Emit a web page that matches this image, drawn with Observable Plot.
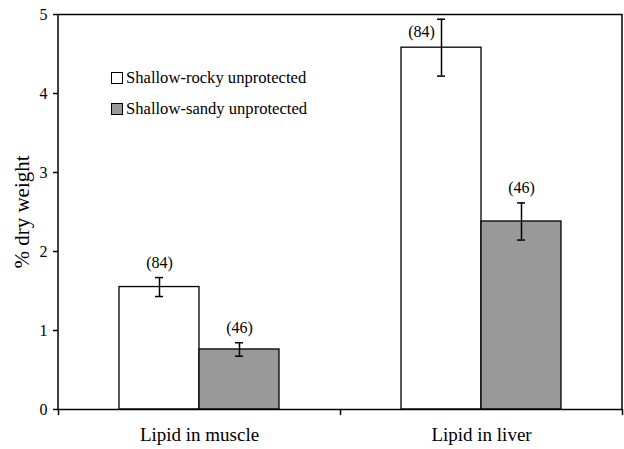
<!DOCTYPE html>
<html>
<head>
<meta charset="utf-8">
<script src="https://cdn.jsdelivr.net/npm/d3@7"></script>
<script src="https://cdn.jsdelivr.net/npm/@observablehq/plot@0.6"></script>
<style>
  body { margin: 0; background: #fff; }
  #wrap { position: relative; width: 624px; height: 449px; font-family: "Liberation Serif", "Times New Roman", serif; }
  #legend { position: absolute; left: 111px; top: 70px; font-size: 16.6px; color: #000; }
  .row { position: absolute; left: 0; white-space: nowrap; display: flex; align-items: center; height: 16px; }
  .sw { width: 10px; height: 10px; border: 1px solid #000; margin-right: 3px; }
</style>
</head>
<body>
<div id="wrap"></div>
<script>
const categories = ["Lipid in muscle", "Lipid in liver"];
const series = ["Shallow-rocky unprotected", "Shallow-sandy unprotected"];
const rockyMean = [1.55, 4.58];
const rockyErr = [0.12, 0.36];
const sandyMean = [0.76, 2.38];
const sandyErr = [0.085, 0.235];
const sampleN = [84, 46];
const colors = ["#ffffff", "#999999"];
const yTicks = [0, 1, 2, 3, 4, 5];
const yTitle = "% dry weight";

const rows = [];
categories.forEach((c, i) => {
  rows.push({cat: c, s: series[0], v: rockyMean[i], e: rockyErr[i], n: sampleN[0]});
  rows.push({cat: c, s: series[1], v: sandyMean[i], e: sandyErr[i], n: sampleN[1]});
});
rows.forEach(d => { d.lo = d.v - d.e; d.hi = d.v + d.e; });
const yMax = 5;
const crowded = d => d.hi + 0.3 > yMax;

const W = 624, H = 449, mL = 58, mR = 2, mT = 14, mB = 40;

const chart = Plot.plot({
  width: W,
  height: H,
  marginLeft: mL,
  marginRight: mR,
  marginTop: mT,
  marginBottom: mB,
  style: {fontFamily: "'Liberation Serif', 'Times New Roman', serif", fontSize: "16px", color: "#000", background: "#fff"},
  fx: {domain: categories, padding: 0, label: null},
  x: {domain: series, paddingInner: 0, paddingOuter: 0.75, axis: null},
  y: {domain: [0, yMax], label: null},
  color: {domain: series, range: colors},
  marks: [
    Plot.barY(rows, {fx: "cat", x: "s", y: "v", fill: "s", stroke: "#000", strokeWidth: 1.3}),
    Plot.ruleX(rows, {fx: "cat", x: "s", y1: "lo", y2: "hi", stroke: "#000", strokeWidth: 1.5}),
    Plot.tickY(rows, {fx: "cat", x: "s", y: "lo", stroke: "#000", strokeWidth: 1.5, insetLeft: 36, insetRight: 36}),
    Plot.tickY(rows, {fx: "cat", x: "s", y: "hi", stroke: "#000", strokeWidth: 1.5, insetLeft: 36, insetRight: 36}),
    Plot.text(rows.filter(d => !crowded(d)), {fx: "cat", x: "s", y: "hi", text: d => `(${d.n})`, dy: -15, fontSize: 16, fill: "#000"}),
    Plot.text(rows.filter(crowded), {fx: "cat", x: "s", y: "hi", text: d => `(${d.n})`, dx: -20, dy: 13, fontSize: 16, fill: "#000"}),
    Plot.ruleY([0, yMax], {stroke: "#000", strokeWidth: 1.5}),
    Plot.axisY({ticks: yTicks, tickSize: 5, tickPadding: 6, tickFormat: d3.format("d"), fontSize: 16, strokeWidth: 1.5, label: null}),
    Plot.axisFx({anchor: "bottom", tickSize: 0, tickPadding: 18, fontSize: 19, label: null}),
    Plot.vector(categories, {fx: d => d, frameAnchor: "bottom-right", shape: "spike", r: 0, length: 5, rotate: 180, anchor: "start", stroke: "#000", strokeWidth: 1.5}),
    Plot.vector([categories[0]], {fx: d => d, frameAnchor: "bottom-left", shape: "spike", r: 0, length: 5, rotate: 180, anchor: "start", stroke: "#000", strokeWidth: 1.5}),
    Plot.text([categories[0]], {fx: d => d, frameAnchor: "left", textAnchor: "middle", lineAnchor: "middle", text: () => yTitle, rotate: -90, dx: -36, fontSize: 21, fill: "#000"})
  ]
});

// left and right frame lines, using the chart's own y scale range
const yr = chart.scale("y").range;
const svg = d3.select(chart);
[mL, W - mR].forEach(xp => {
  svg.append("line")
    .attr("x1", xp).attr("x2", xp)
    .attr("y1", yr[0]).attr("y2", yr[1])
    .attr("stroke", "#000").attr("stroke-width", 1.5);
});

const wrap = document.getElementById("wrap");
chart.style.display = "block";
wrap.appendChild(chart);

const legend = document.createElement("div");
legend.id = "legend";
series.forEach((s, i) => {
  const row = document.createElement("div");
  row.className = "row";
  row.style.top = (i * 31) + "px";
  const sw = document.createElement("div");
  sw.className = "sw";
  sw.style.background = colors[i];
  const t = document.createElement("span");
  t.textContent = s;
  row.appendChild(sw);
  row.appendChild(t);
  legend.appendChild(row);
});
wrap.appendChild(legend);
</script>
</body>
</html>
